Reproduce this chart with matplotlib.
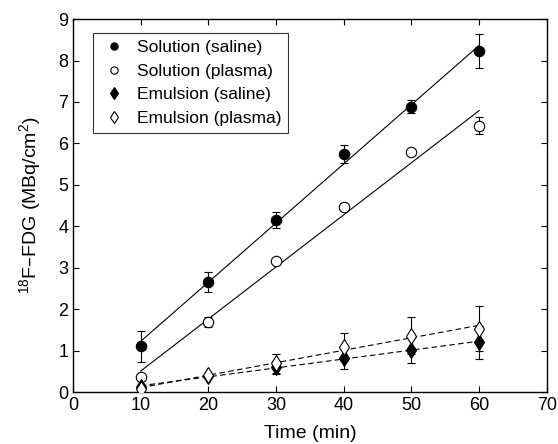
"""18F-FDG permeation over time: solution vs emulsion, saline vs plasma."""
import numpy as np
import matplotlib
matplotlib.use("Agg")
import matplotlib.pyplot as plt
from matplotlib.lines import Line2D

plt.rcParams["font.family"] = ["Liberation Sans", "DejaVu Sans"]
plt.rcParams["mathtext.default"] = "regular"

time_min = [10, 20, 30, 40, 50, 60]

sol_saline = [1.10, 2.65, 4.15, 5.75, 6.89, 8.23]
sol_saline_err = [0.37, 0.24, 0.20, 0.22, 0.16, 0.42]
sol_plasma = [0.36, 1.69, 3.16, 4.46, 5.80, 6.43]
sol_plasma_err = [0.05, 0.12, 0.07, 0.05, 0.04, 0.21]
emu_saline = [0.12, 0.38, 0.60, 0.83, 1.01, 1.20]
emu_saline_err = [0.05, 0.05, 0.16, 0.27, 0.30, 0.40]
emu_plasma = [0.08, 0.40, 0.69, 1.09, 1.36, 1.53]
emu_plasma_err = [0.04, 0.05, 0.23, 0.33, 0.44, 0.55]

series = [
    ("Solution (saline)", sol_saline, sol_saline_err, "o", "black", "-"),
    ("Solution (plasma)", sol_plasma, sol_plasma_err, "o", "white", "-"),
    ("Emulsion (saline)", emu_saline, emu_saline_err, "d", "black", "--"),
    ("Emulsion (plasma)", emu_plasma, emu_plasma_err, "d", "white", "--"),
]

fig = plt.figure(figsize=(5.58, 4.44), dpi=100)
ax = fig.add_axes([0.131, 0.117, 0.849, 0.840])

x = np.array(time_min)
handles = []
for label, values, errors, marker, face, style in series:
    size = 7.5 if marker == "o" else 8.5
    ax.errorbar(x, values, yerr=errors, fmt=marker, mfc=face, mec="black",
                ms=size, mew=0.8, ecolor="black", elinewidth=0.8, capsize=3,
                capthick=0.8, zorder=3)
    slope, intercept = np.polyfit(x, values, 1)
    ax.plot(x[[0, -1]], slope * x[[0, -1]] + intercept, color="black",
            linestyle=style, linewidth=0.8, dashes=(5, 3) if style == "--" else (None, None),
            zorder=2)
    handles.append(Line2D([], [], linestyle="none", marker=marker, mfc=face,
                          mec="black", ms=size * 0.7, mew=0.8, label=label))

ax.set_xlim(0, 70)
ax.set_ylim(0, 9)
ax.set_xticks(range(0, 71, 10))
ax.set_yticks(range(0, 10))
ax.tick_params(direction="in", top=True, right=True, labelsize=13, length=4, width=0.8)
for spine in ax.spines.values():
    spine.set_linewidth(1.0)
ax.set_xlabel("Time (min)", fontsize=14, labelpad=8)
ax.set_ylabel("$^{18}$F\u2013FDG (MBq/cm$^{2}$)", fontsize=14, labelpad=11)

legend = ax.legend(handles=handles, loc="upper left", fontsize=12.5, frameon=True,
                   fancybox=False, edgecolor="black", handlelength=1.6,
                   handletextpad=0.5, borderpad=0.4, labelspacing=0.48,
                   borderaxespad=0, bbox_to_anchor=(0.043, 0.962))
legend.get_frame().set_linewidth(0.8)

fig.savefig("out.png", dpi=100)
